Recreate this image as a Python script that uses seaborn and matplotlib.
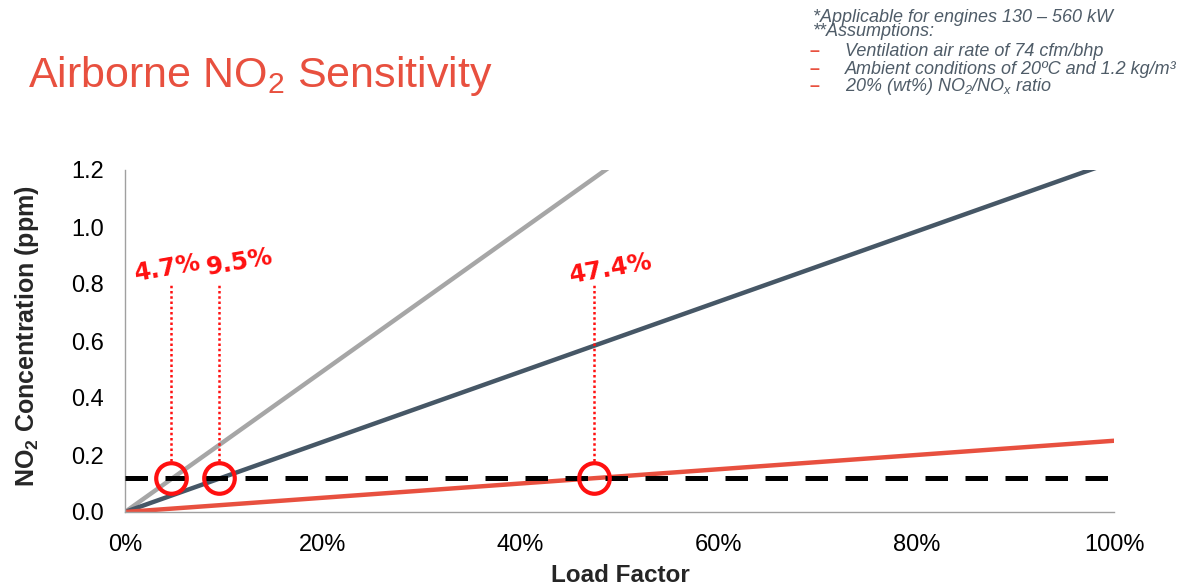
import matplotlib
matplotlib.use("Agg")
import matplotlib.pyplot as plt
import seaborn as sns
import pandas as pd

# Series: NO2 concentration (ppm) vs. load factor, straight lines from the origin
load_factor = [0.0, 1.0]
conc_grey = [0.0, 2.47]
conc_dark = [0.0, 1.23]
conc_red = [0.0, 0.25]
series_names = ["Engine A", "Engine B", "Engine C"]
limit_ppm = 0.12

# Load factors where each line crosses the limit
cross_values = [0.047, 0.095, 0.474]
cross_labels = ["4.7%", "9.5%", "47.4%"]

y_ticks = [0.0, 0.2, 0.4, 0.6, 0.8, 1.0, 1.2]
x_ticks = [0.0, 0.2, 0.4, 0.6, 0.8, 1.0]

notes = [
    "*Applicable for engines 130 \u2013 560 kW",
    "**Assumptions:",
]
bullets = [
    "Ventilation air rate of 74 cfm/bhp",
    "Ambient conditions of 20\u00baC and 1.2 kg/m\u00b3",
    "20% (wt%) NO$_2$/NO$_x$ ratio",
]

sns.set_theme(style="white")
plt.rcParams["font.family"] = ["Liberation Sans", "DejaVu Sans"]
plt.rcParams["mathtext.default"] = "regular"

W, H = 1183, 588
fig = plt.figure(figsize=(W / 100, H / 100), dpi=100)
ax = fig.add_axes([125 / W, 1 - 512 / H, (1114 - 125) / W, (512 - 170) / H])

df = pd.DataFrame({
    "load": load_factor * 3,
    "conc": conc_grey + conc_dark + conc_red,
    "series": [s for s in series_names for _ in load_factor],
})
palette = {"Engine A": "#A6A6A6", "Engine B": "#465766", "Engine C": "#E8503F"}
sns.lineplot(data=df, x="load", y="conc", hue="series", palette=palette,
             linewidth=3.2, legend=False, ax=ax, zorder=2)

# Exposure limit
ax.axhline(limit_ppm, color="black", linewidth=3.6, dashes=(4.5, 3.5), zorder=3)

ann_red = "#FF1010"
for xv, lab, dx, dy in zip(cross_values, cross_labels, [-0.004, 0.021, 0.017], [0.855, 0.877, 0.855]):
    ax.plot([xv], [limit_ppm], marker="o", markersize=22, markerfacecolor="none",
            markeredgecolor=ann_red, markeredgewidth=3.0, zorder=5, clip_on=False)
    ax.plot([xv, xv], [0.178, 0.80], color=ann_red, linewidth=1.8,
            linestyle=(0, (1, 1.1)), zorder=4)
    ax.text(xv + dx, dy, lab, color=ann_red, fontsize=17.5, fontweight="heavy",
            rotation=10, ha="center", va="center",
            family=["DejaVu Sans"], zorder=6)

ax.set_xlim(0, 1)
ax.set_ylim(0, 1.2)
ax.set_xticks(x_ticks)
ax.set_xticklabels([f"{int(round(v * 100))}%" for v in x_ticks], fontsize=17)
ax.set_yticks(y_ticks)
ax.set_yticklabels([f"{v:.1f}" for v in y_ticks], fontsize=17)
ax.tick_params(axis="both", direction="out", length=6, width=1, color="#A0A0A0",
               colors="#A0A0A0", labelcolor="black", pad=9)
ax.tick_params(axis="x", pad=10)
for side in ["top", "right"]:
    ax.spines[side].set_visible(False)
for side in ["left", "bottom"]:
    ax.spines[side].set_color("#A0A0A0")
    ax.spines[side].set_linewidth(1.0)

ax.set_xlabel("")
ax.set_ylabel("")
fig.text(620 / W, 1 - 576 / H, "Load Factor", ha="center", va="center",
         fontsize=17.5, fontweight="bold")
fig.text(27 / W, 1 - 336 / H, "NO$_2$ Concentration (ppm)", ha="center", va="center",
         rotation=90, fontsize=18, fontweight="bold")

# Title
fig.text(28 / W, 1 - 76 / H, "Airborne NO$_2$ Sensitivity", ha="left", va="center",
         fontsize=31, color="#E8503F")

# Notes block
note_color = "#4F5C68"
for txt, yp in zip(notes, [17, 32]):
    fig.text(813 / W, 1 - yp / H, txt, ha="left", va="center", fontsize=13,
             style="italic", color=note_color)
for txt, yp in zip(bullets, [52, 69, 86]):
    fig.text(810 / W, 1 - yp / H, "\u2013", ha="left", va="center", fontsize=13,
             fontweight="bold", color="#E8503F")
    fig.text(845 / W, 1 - yp / H, txt, ha="left", va="center", fontsize=13,
             style="italic", color=note_color)

fig.savefig("out.png", dpi=100)
